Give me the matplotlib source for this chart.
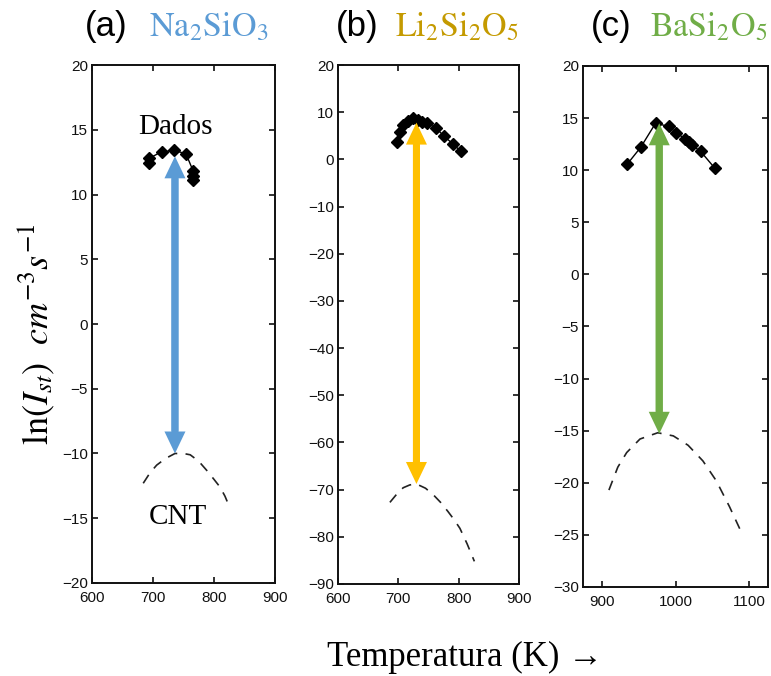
import matplotlib
matplotlib.use('Agg')
import matplotlib.pyplot as plt

plt.rcParams['font.family'] = ['Liberation Sans', 'DejaVu Sans']
plt.rcParams['mathtext.fontset'] = 'stix'

# (a) Na2SiO3
a_dados_T = [694, 694, 714, 735, 754, 766, 766, 766]
a_dados_y = [12.4, 12.8, 13.3, 13.4, 13.15, 11.8, 11.45, 11.1]
a_cnt_T = [684, 695, 706, 720, 736, 750, 761, 775, 788, 800, 810, 818, 826]
a_cnt_y = [-12.3, -11.5, -10.9, -10.4, -10.0, -10.0, -10.1, -10.6, -11.3, -12.0, -12.6, -13.3, -14.2]
a_arrow = (736, 12.95, -10.0)

# (b) Li2Si2O5
b_dados_T = [698, 702, 708, 716, 725, 732, 740, 748, 763, 775, 791, 803]
b_dados_y = [3.7, 5.9, 7.2, 8.2, 8.7, 8.3, 8.0, 7.7, 6.6, 5.0, 3.2, 1.8]
b_cnt_T = [686, 697, 708, 719, 730, 745, 758, 770, 782, 792, 802, 814, 826]
b_cnt_y = [-72.7, -71.0, -69.6, -69.0, -68.8, -69.7, -71.1, -72.7, -74.6, -76.3, -78.2, -81.5, -85.2]
b_arrow = (730, 7.8, -68.8)

# (c) BaSi2O5
c_dados_T = [935, 953, 973, 991, 1001, 1013, 1018, 1022, 1034, 1053]
c_dados_y = [10.6, 12.2, 14.5, 14.2, 13.6, 13.0, 12.7, 12.4, 11.8, 10.2]
c_cnt_T = [910, 922, 934, 952, 976, 997, 1017, 1037, 1055, 1073, 1090]
c_cnt_y = [-20.7, -18.5, -17.1, -15.8, -15.2, -15.5, -16.4, -17.9, -19.8, -22.3, -24.9]
c_arrow = (978, 14.5, -15.3)

panels = [
    dict(rect=[0.1193, 0.1376, 0.2374, 0.7662], xlim=(600, 900), ylim=(-20, 20),
         xt=[600, 700, 800, 900], yt=range(-20, 21, 5),
         dT=a_dados_T, dy=a_dados_y, cT=a_cnt_T, cy=a_cnt_y, arr=a_arrow, col='#5B9BD5',
         lab='(a)', form=r'$\mathrm{Na_2SiO_3}$', fcol='#5B9BD5', lx=85, fx=149),
    dict(rect=[0.4384, 0.1361, 0.2348, 0.7677], xlim=(600, 900), ylim=(-90, 20),
         xt=[600, 700, 800, 900], yt=range(-90, 21, 10),
         dT=b_dados_T, dy=b_dados_y, cT=b_cnt_T, cy=b_cnt_y, arr=b_arrow, col='#FFC000',
         lab='(b)', form=r'$\mathrm{Li_2Si_2O_5}$', fcol='#C49A00', lx=336, fx=395),
    dict(rect=[0.7562, 0.1317, 0.2399, 0.7707], xlim=(875, 1125), ylim=(-30, 20),
         xt=[900, 1000, 1100], yt=range(-30, 21, 5),
         dT=c_dados_T, dy=c_dados_y, cT=c_cnt_T, cy=c_cnt_y, arr=c_arrow, col='#70AD47',
         lab='(c)', form=r'$\mathrm{BaSi_2O_5}$', fcol='#70AD47', lx=591, fx=650),
]

fig = plt.figure(figsize=(7.71, 6.76), dpi=100)
axes = []
for p in panels:
    ax = fig.add_axes(p['rect'])
    ax.set_xlim(p['xlim'])
    ax.set_ylim(p['ylim'])
    ax.set_xticks(p['xt'])
    ax.set_yticks(list(p['yt']))
    ax.tick_params(direction='in', top=True, right=True, length=4.5, width=1.2,
                   labelsize=11, colors='#111111', pad=3)
    ax.tick_params(axis='x', pad=6)
    for s in ax.spines.values():
        s.set_linewidth(1.4)
        s.set_color('#111111')

    ax.plot(p['dT'], p['dy'], color='black', lw=1, marker='D', ms=6, zorder=2)
    ax.plot(p['cT'], p['cy'], color='#222222', lw=1.2, ls=(0, (6, 5)), zorder=2)

    # double headed arrow, sizes given in pixels
    x, top, bot = p['arr']
    sx = ax.bbox.width / (p['xlim'][1] - p['xlim'][0])
    sy = ax.bbox.height / (p['ylim'][1] - p['ylim'][0])
    hl = 22 / sy
    ax.arrow(x, bot + hl, 0, top - bot - hl, width=7 / sx, head_width=21 / sx,
             head_length=hl, length_includes_head=True,
             color=p['col'], lw=0, zorder=3)
    ax.arrow(x, top - hl, 0, bot - top + hl, width=7 / sx, head_width=21 / sx,
             head_length=hl, length_includes_head=True,
             color=p['col'], lw=0, zorder=3)

    fig.text(p['lx'] / 771, 0.947, p['lab'], fontsize=25, va='baseline', ha='left')
    fig.text(p['fx'] / 771, 0.947, p['form'], fontsize=24.5, va='baseline', ha='left',
             color=p['fcol'])
    axes.append(ax)

serif = ['Liberation Serif', 'DejaVu Serif']
axes[0].text(736, 15.2, 'Dados', fontsize=21, family=serif, ha='center', va='center')
axes[0].text(741, -14.9, 'CNT', fontsize=21, family=serif, ha='center', va='center')

fig.text(0.047, 0.505, r'$\mathrm{ln}(I_{st})\ \ cm^{-3}s^{-1}$', fontsize=26,
         rotation=90, ha='center', va='center')
fig.text(0.603, 0.028, 'Temperatura (K) \u2192', fontsize=25, family=serif,
         ha='center', va='center')

fig.savefig('out.png', dpi=100)
plt.close(fig)
